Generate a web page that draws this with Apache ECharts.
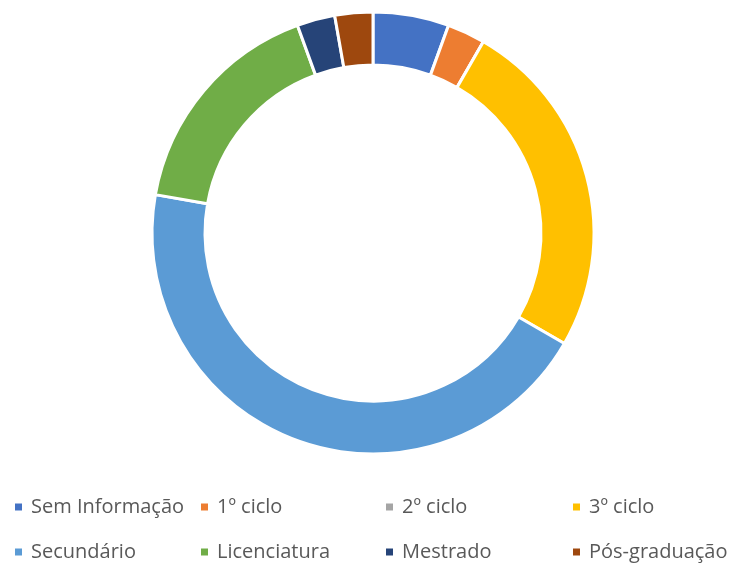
<!DOCTYPE html>
<html>
<head>
<meta charset="utf-8">
<script src="https://cdn.jsdelivr.net/npm/echarts@6/dist/echarts.min.js"></script>
<style>
  html,body{margin:0;padding:0;background:#fff}
  #chart{width:736px;height:567px}
</style>
</head>
<body>
<div id="chart"></div>
<script>
const categories = ["Sem Informação", "1º ciclo", "2º ciclo", "3º ciclo", "Secundário", "Licenciatura", "Mestrado", "Pós-graduação"];
const values = [2, 1, 0, 9, 16, 6, 1, 1];
const colors = ["#4472C4", "#ED7D31", "#A5A5A5", "#FFC000", "#5B9BD5", "#70AD47", "#264478", "#9E480E"];

const chart = echarts.init(document.getElementById("chart"));

// one legend per slot so the columns line up like the original
const colX = [8, 194, 379, 566];
const rowY = [492, 537];
const legends = categories.map(function (name, i) {
  return {
    data: [name],
    left: colX[i % 4],
    top: rowY[Math.floor(i / 4)],
    icon: "rect",
    itemWidth: 9,
    itemHeight: 9,
    itemGap: 0,
    textStyle: {
      color: "#595959",
      fontSize: 20,
      fontFamily: "Open Sans",
      padding: [0, 0, 0, 3]
    }
  };
});

const option = {
  color: colors,
  animation: false,
  legend: legends,
  series: [
    {
      type: "pie",
      center: [373, 233],
      radius: [168, 221],
      startAngle: 90,
      clockwise: true,
      avoidLabelOverlap: false,
      label: { show: false },
      labelLine: { show: false },
      itemStyle: {
        borderColor: "#fff",
        borderWidth: 3
      },
      emphasis: { disabled: true },
      data: categories.map(function (c, i) {
        return { name: c, value: values[i] };
      })
    }
  ]
};
chart.setOption(option);
</script>
</body>
</html>
